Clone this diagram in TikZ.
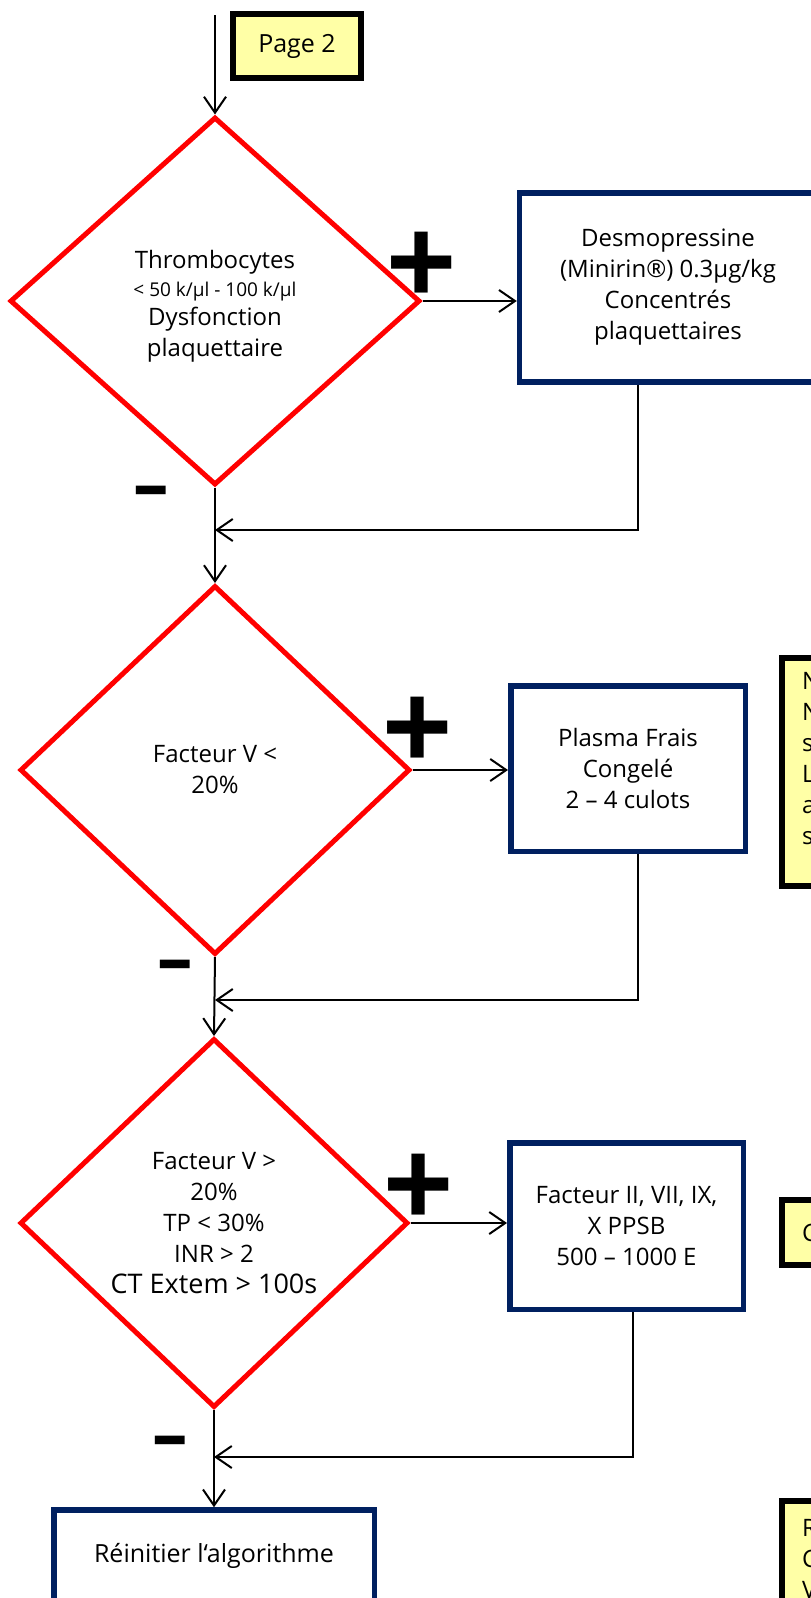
\documentclass[tikz,border=0pt]{standalone}
\usepackage{fontspec}
\setmainfont{Open Sans}
\newfontfamily\signfont{Liberation Sans}
\usetikzlibrary{shapes.geometric,arrows.meta}
\definecolor{navy}{RGB}{0,32,96}
\definecolor{pale}{RGB}{255,255,166}
\definecolor{alarm}{RGB}{255,0,0}

\begin{document}
\begin{tikzpicture}[x=1pt, y=-1pt, >={Straight Barb[length=16pt,width=22pt]},
  test/.style={diamond, draw=alarm, line width=5pt, inner sep=0pt, align=center, font=\fontsize{24}{31}\selectfont},
  act/.style={rectangle, draw=navy, line width=5.5pt, inner sep=0pt, align=center, font=\fontsize{24}{31}\selectfont},
  note/.style={rectangle, draw=black, fill=pale, line width=6pt, inner xsep=20pt, align=left, font=\fontsize{24}{31}\selectfont},
  plus/.style={font=\signfont\bfseries\fontsize{120}{120}\selectfont, inner sep=0pt},
  minus/.style={font=\signfont\bfseries\fontsize{86}{86}\selectfont, inner sep=0pt, xscale=0.7},
  flow/.style={line width=2pt}]
\useasboundingbox (0,0) rectangle (811,1598);
\clip (0,0) rectangle (811,1598);

\node[note, align=center, inner sep=0pt, minimum width=128pt, minimum height=64pt, font=\fontsize{25}{31}\selectfont] (page) at (297,46) {Page 2};
\coordinate (start) at (215,15);

\node[test, minimum width=410pt, minimum height=368pt] (d1) at (215,301) {\raisebox{-5pt}[\height][\depth]{\begin{tabular}{@{}c@{}}Thrombocytes\\[-3pt]{\fontsize{19}{24}\selectfont < 50 k/µl - 100 k/µl}\\[-2pt]Dysfonction\\plaquettaire\end{tabular}}};
\node[act, minimum width=297pt, minimum height=189pt] (b1) at (668,287.5) {Desmopressine\\(Minirin®) 0.3µg/kg\\Concentrés\\plaquettaires};
\node[plus] (p1) at (422,267) {+};
\node[minus] (m1) at (151,500) {–};

\node[test, minimum width=390pt, minimum height=369pt] (d2) at (215,770) {Facteur V <\\20\%};
\node[act, minimum width=234.5pt, minimum height=165.5pt] (b2) at (628,768.5) {Plasma Frais\\Congelé\\2 – 4 culots};
\node[note, anchor=north west, text width=200pt, minimum height=228pt] (n2) at (779,655) {\raisebox{11pt}[\height][\depth]{\begin{tabular}{@{}l@{}}N\\N\\s\\L\\a\\s\end{tabular}}};
\node[plus] (p2) at (418,732) {+};
\node[minus] (m2) at (175,974) {–};

\node[test, minimum width=388pt, minimum height=369pt] (d3) at (214,1223) {Facteur V >\\20\%\\TP < 30\%\\INR > 2\\{\fontsize{27}{36}\selectfont CT Extem > 100s}};
\node[act, minimum width=233.5pt, minimum height=166.5pt] (b3) at (626.5,1226) {Facteur II, VII, IX,\\X PPSB\\500 – 1000 E};
\node[note, anchor=north west, text width=200pt, minimum height=65pt] (n3) at (779,1197) {C};
\node[plus] (p3) at (419,1189) {+};
\node[minus] (m3) at (170,1450) {–};

\node[act, minimum width=320.5pt, minimum height=92pt, font=\fontsize{25}{31}\selectfont] (b4) at (214,1556) {Réinitier l‘algorithme};
\node[note, anchor=north west, text width=200pt, minimum height=116pt] (n4) at (779,1498) {R\\C\\V};

\coordinate (r1) at (638,530);
\coordinate (r2) at (638,1000);
\coordinate (r3) at (633,1457);

\draw[flow,->] (start) -- (d1.north);
\draw[flow,->] (d1.east) -- (d1.east -| b1.west);
\draw[flow,->] (b1.south -| r1) |- (d1.south |- r1);
\draw[flow,->] (d1.south) -- (d2.north);
\draw[flow,->] (d2.east) -- (d2.east -| b2.west);
\draw[flow,->] (b2.south -| r2) |- (d2.south |- r2);
\draw[flow,->] (d2.south) -- (d3.north);
\draw[flow,->] (d3.east) -- (d3.east -| b3.west);
\draw[flow,->] (b3.south -| r3) |- (d3.south |- r3);
\draw[flow,->] (d3.south) -- (b4.north);
\end{tikzpicture}
\end{document}
